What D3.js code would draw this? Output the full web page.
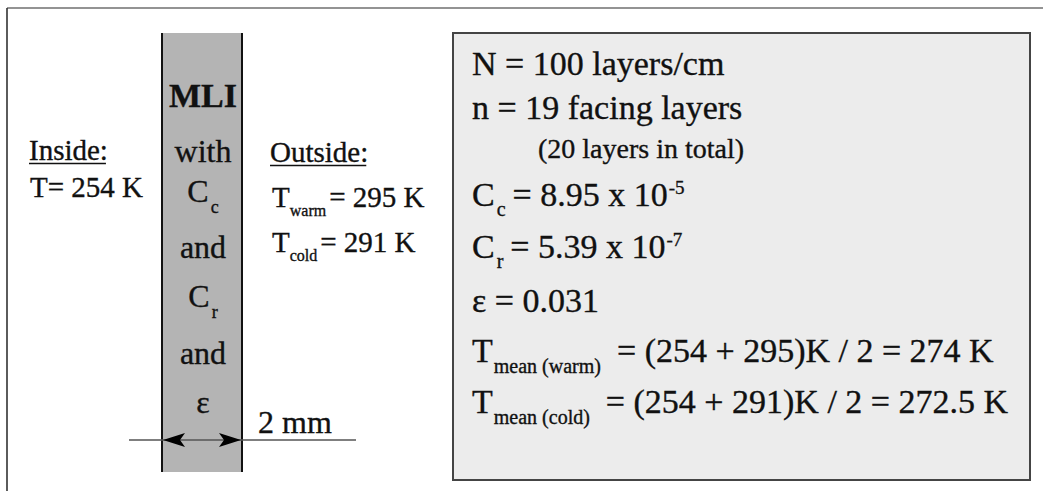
<!DOCTYPE html>
<html><head><meta charset="utf-8">
<script src="https://cdn.jsdelivr.net/npm/d3@7"></script>
<style>html,body{margin:0;padding:0;background:#fff;overflow:hidden}</style>
</head><body><svg id="c" width="1043" height="491"></svg>
<script>
// ---- content (text data) ----
const insideLabel = "Inside:";
const insideLines = [ [["T= 254 K","n"]] ];
const outsideLabel = "Outside:";
const outsideLines = [
  [["T","n"],["warm","sub"],["= 295 K","n"]],
  [["T","n"],["cold","sub"],["= 291 K","n"]]
];
const columnWords = [
  [["MLI","b"]], [["with","n"]], [["C","n"],["c","sub"]], [["and","n"]],
  [["C","n"],["r","sub"]], [["and","n"]], [["ε","n"]]
];
const thicknessLabel = "2 mm";
const paramLines = [
  [["N = 100 layers/cm","n"]],
  [["n = 19 facing layers","n"]],
  [["(20 layers in total)","small"]],
  [["C","n"],["c","sub"],["= 8.95 x 10","n"],["-5","sup"]],
  [["C","n"],["r","sub"],["= 5.39 x 10","n"],["-7","sup"]],
  [["ε = 0.031","n"]],
  [["T","n"],["mean (warm)","sub"],["= (254 + 295)K / 2 = 274 K","n"]],
  [["T","n"],["mean (cold)","sub"],["= (254 + 291)K / 2 = 272.5 K","n"]]
];

// ---- layout ----
const W = 1043, H = 491;
const svg = d3.select("#c");
const FONT = "'Liberation Serif','Times New Roman',serif";
const ink = "#111";
const inkStroke = 0.35;

// row scales (index -> baseline y)
const colRowsY = d3.scaleOrdinal().domain(d3.range(columnWords.length)).range([107,162,202,258,307,364,413]);
const paramRowsY = d3.scaleOrdinal().domain(d3.range(paramLines.length)).range([75,119,158,206,258,312,362,413]);
const colX = d3.scaleLinear().domain([0,1]).range([162,242]);

// outer frame
svg.append("line").attr("x1",7).attr("y1",8).attr("x2",W).attr("y2",8).attr("stroke","#6f6f6f").attr("stroke-width",1.6);
svg.append("line").attr("x1",7).attr("y1",8).attr("x2",7).attr("y2",H).attr("stroke","#333").attr("stroke-width",1.6);

// MLI column
svg.append("rect").attr("x",colX(0)).attr("y",33).attr("width",colX(1)-colX(0)).attr("height",472-33).attr("fill","#b4b4b4");
[0,1].forEach(v=>svg.append("line").attr("x1",colX(v)).attr("x2",colX(v)).attr("y1",33).attr("y2",472).attr("stroke","#111").attr("stroke-width",2));

// generic line renderer
function renderLine(g, segs, x, y, opt){
  const t = g.append("text").attr("x",x).attr("y",y).attr("font-family",FONT).attr("fill",ink)
    .attr("stroke",ink).attr("stroke-width",inkStroke)
    .attr("text-anchor",opt.anchor||"start");
  let shift = 0;
  segs.forEach((s,i)=>{
    const [txt,kind] = s;
    const ts = t.append("tspan").text(txt);
    let target = 0, size = opt.main, dx = 0;
    if(kind==="sub"){ target = opt.subOff; size = opt.sub; dx = opt.subDx||0; }
    else if(kind==="sup"){ target = -opt.supOff; size = opt.sup; dx = 1; }
    else if(kind==="small"){ size = opt.small; }
    else if(kind==="b"){ size = opt.bold||opt.main; ts.attr("font-weight","bold"); }
    if(i>0 && segs[i-1][1]==="sub" && kind==="n") dx = opt.afterSub||0;
    ts.attr("font-size",size).attr("dy",target-shift);
    if(dx) ts.attr("dx",dx);
    shift = target;
  });
  return t;
}

// Inside
const gL = svg.append("g");
const inT = gL.append("text").attr("x",29).attr("y",160).attr("font-family",FONT).attr("font-size",29)
  .attr("fill",ink).attr("stroke",ink).attr("stroke-width",inkStroke).text(insideLabel);
gL.append("line").attr("x1",29).attr("x2",29+inT.node().getComputedTextLength()-2).attr("y1",163.5).attr("y2",163.5).attr("stroke",ink).attr("stroke-width",1.4);
insideLines.forEach(l=>renderLine(gL,l,30,197,{main:29}));

// Outside
const gO = svg.append("g");
const outT = gO.append("text").attr("x",270).attr("y",162).attr("font-family",FONT).attr("font-size",29)
  .attr("fill",ink).attr("stroke",ink).attr("stroke-width",inkStroke).text(outsideLabel);
gO.append("line").attr("x1",270).attr("x2",270+outT.node().getComputedTextLength()-2).attr("y1",165.5).attr("y2",165.5).attr("stroke",ink).attr("stroke-width",1.4);
const outY = d3.scaleOrdinal().domain([0,1]).range([207,252]);
outsideLines.forEach((l,i)=>renderLine(gO,l,272,outY(i),{main:29,sub:16,subOff:9,afterSub:3}));

// column words
const gC = svg.append("g");
columnWords.forEach((l,i)=>renderLine(gC,l,(colX(0)+colX(1))/2+1,colRowsY(i),{anchor:"middle",main:32,bold:34,sub:18,subOff:11,subDx:2}));

// dimension line
const dimY = 440;
svg.append("line").attr("x1",129).attr("x2",356).attr("y1",dimY).attr("y2",dimY).attr("stroke","#555").attr("stroke-width",1.5);
const arrow = (tip, dir) => `M${tip},${dimY} L${tip+dir*22},${dimY-7} L${tip+dir*17},${dimY} L${tip+dir*22},${dimY+7} Z`;
svg.append("path").attr("d",arrow(colX(0)+1,1)).attr("fill","#000");
svg.append("path").attr("d",arrow(colX(1)-1,-1)).attr("fill","#000");
svg.append("text").attr("x",258).attr("y",433).attr("font-family",FONT).attr("font-size",32)
  .attr("fill",ink).attr("stroke",ink).attr("stroke-width",inkStroke).text(thicknessLabel);

// parameter box
svg.append("rect").attr("x",453).attr("y",33).attr("width",1030-453).attr("height",480-33)
  .attr("fill","#ececec").attr("stroke","#444").attr("stroke-width",2);
const gP = svg.append("g");
paramLines.forEach((l,i)=>{
  const isSmall = l[0][1]==="small";
  const isMean = l.length>1 && l[1][0].startsWith("mean");
  renderLine(gP,l,isSmall?538:472,paramRowsY(i),{main:34,small:28,sub:20,subOff:isMean?11:10,sup:19,supOff:12,subDx:isMean?1:2,afterSub:isMean?16:7});
});
</script></body></html>
